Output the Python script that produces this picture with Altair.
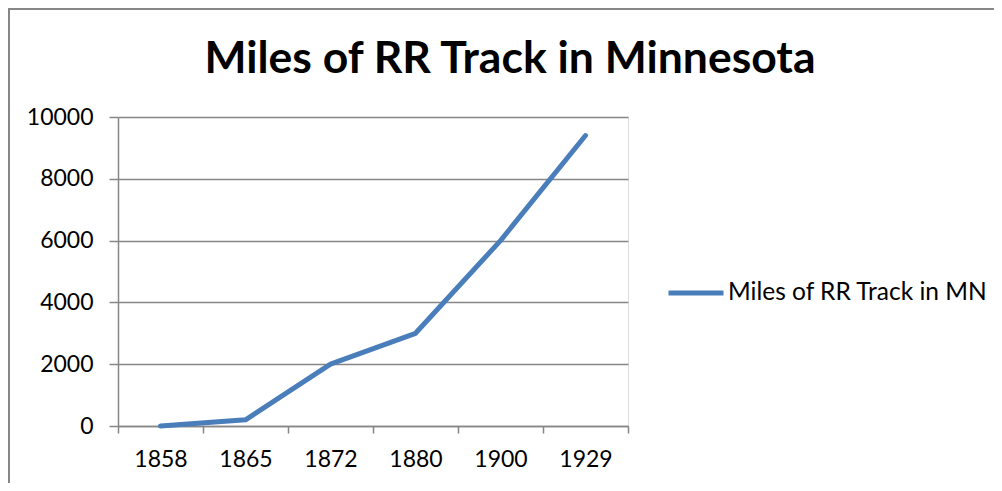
import altair as alt
import pandas as pd

years = ["1858", "1865", "1872", "1880", "1900", "1929"]
miles = [0, 200, 2000, 3000, 6000, 9400]
series_name = "Miles of RR Track in MN"
title_text = "Miles of RR Track in Minnesota"

df = pd.DataFrame({"year": years, "miles": miles, "series": [series_name] * len(years)})
title_df = pd.DataFrame({"t": [title_text]})

GRAY = "#868686"
BLUE = "#4A7EBB"
FONT = "Lato"

line = alt.Chart(df).mark_line(strokeWidth=5, strokeCap="round", strokeJoin="round").encode(
    x=alt.X(
        "year:O",
        bandPosition=0.5,
        sort=years,
        scale=alt.Scale(type="band", paddingInner=0, paddingOuter=0),
        axis=alt.Axis(
            title=None,
            tickBand="extent",
            grid=False,
            domainColor=GRAY,
            tickColor=GRAY,
            tickSize=7,
            tickWidth=1.5,
            domainWidth=1.5,
            labelAngle=0,
            labelPadding=15,
            labelFont=FONT,
            labelFontSize=23,
            labelColor="#000000",
        ),
    ),
    y=alt.Y(
        "miles:Q",
        scale=alt.Scale(domain=[0, 10000], nice=False),
        axis=alt.Axis(
            title=None,
            values=[0, 2000, 4000, 6000, 8000, 10000],
            format="d",
            gridColor=GRAY,
            gridWidth=1.5,
            domainColor=GRAY,
            domainWidth=1.5,
            tickColor=GRAY,
            tickWidth=1.5,
            tickSize=9,
            labelPadding=16,
            labelFont=FONT,
            labelFontSize=23,
            labelColor="#000000",
        ),
    ),
    color=alt.Color(
        "series:N",
        scale=alt.Scale(range=[BLUE]),
        legend=alt.Legend(
            title=None,
            orient="none",
            legendX=548,
            legendY=146,
            symbolType="stroke",
            symbolSize=3025,
            symbolStrokeWidth=5,
            labelOffset=2,
            labelLimit=0,
            labelFont=FONT,
            labelFontSize=24.5,
            labelColor="#000000",
            padding=0,
        ),
    ),
)

title_mark = alt.Chart(title_df).mark_text(
    font=FONT, fontSize=44.5, fontWeight="bold", color="#000000",
    align="center", baseline="alphabetic",
).encode(x=alt.value(392), y=alt.value(-44), text="t:N")

border = alt.Chart(df).mark_rule(color=GRAY, strokeWidth=1.5).encode(
    x=alt.value(-109.25), x2=alt.value(900), y=alt.value(-108.25)
)
border_left = alt.Chart(df).mark_rule(color=GRAY, strokeWidth=1.5).encode(
    x=alt.value(-109.25), y=alt.value(-108.25), y2=alt.value(400)
)

chart = alt.layer(line, title_mark, border, border_left).properties(
    width=510,
    height=309,
    autosize=alt.AutoSizeParams(type="none"),
    padding={"left": 110, "top": 109, "right": 366, "bottom": 57},
).configure_view(stroke=None).configure(background="white")

chart.save("out.html", embed_options={"renderer": "svg", "actions": False})
